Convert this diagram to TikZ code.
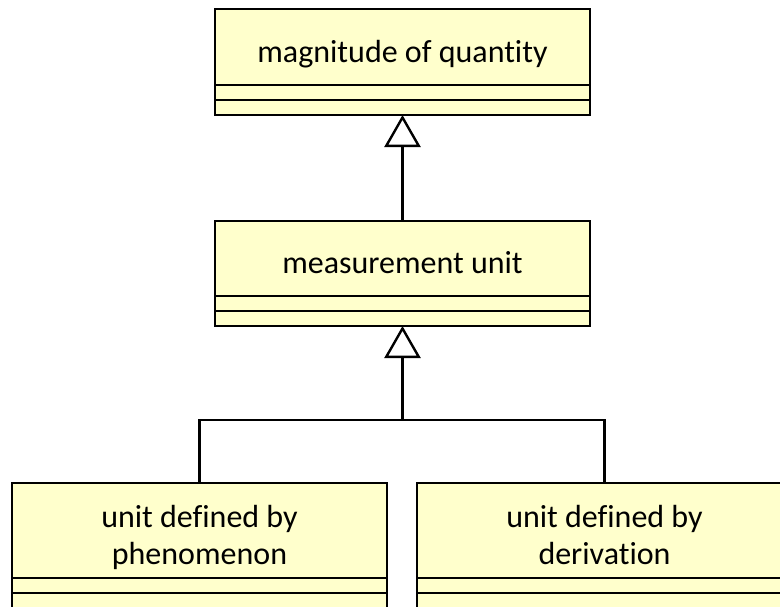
\documentclass[tikz,border=0pt]{standalone}
\usepackage{fontspec}
\setmainfont[Ligatures=NoCommon]{Carlito}
\usetikzlibrary{arrows.meta, positioning}
\definecolor{classfill}{HTML}{FFFFCC}
\tikzset{
  classname/.style={draw=black, fill=classfill, line width=2.6pt, outer sep=0pt, inner sep=0pt,
    minimum width=375pt, align=center, font=\fontsize{32}{37}\selectfont},
  classpart/.style={draw=black, fill=classfill, line width=2.6pt, outer sep=0pt, inner sep=0pt,
    minimum width=375pt, minimum height=15pt},
  inherit/.style={line width=2.4pt, -{Triangle[open, length=32pt, width=36pt, line width=2.4pt]}},
  link/.style={line width=2.4pt},
}

\begin{document}
\begin{tikzpicture}[x=1pt, y=-1pt]
    \useasboundingbox (0,0) rectangle (780,606);
    \clip (0,0) rectangle (780,606);
    % magnitude of quantity
    \node[classname, minimum height=76pt, text height=32pt, text depth=2pt] (mq) at (402.5,47) {magnitude of quantity};
    \node[classpart, below=0pt of mq] (mqa) {};
    \node[classpart, below=0pt of mqa] (mqb) {};
    % measurement unit
    \node[classname, minimum height=75pt, text height=31pt, text depth=1pt] (mu) at (402.5,258.5) {measurement unit};
    \node[classpart, below=0pt of mu] (mua) {};
    \node[classpart, below=0pt of mua] (mub) {};
    % unit defined by ...
    \node[classname, minimum height=95pt, text height=70pt, text depth=2pt] (ph) at (199.5,530.5) {unit defined by\\phenomenon};
    \node[classpart, below=0pt of ph] (pha) {};
    \node[classpart, below=0pt of pha] (phb) {};
    \node[classname, minimum height=95pt, text height=70pt, text depth=2pt] (dv) at (604.5,530.5) {unit defined by\\derivation};
    \node[classpart, below=0pt of dv] (dva) {};
    \node[classpart, below=0pt of dva] (dvb) {};
    \coordinate (fork) at (402.5,420);
    \draw[inherit] (mu.north) -- (mqb.south);
    \draw[inherit] (fork) -- (mub.south);
    \draw[link] (ph.north) -- (ph.north |- fork) -- (dv.north |- fork) -- (dv.north);
  \end{tikzpicture}
\end{document}
